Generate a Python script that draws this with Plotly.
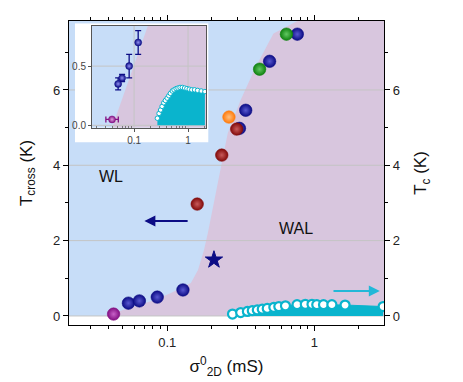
import numpy as np
import plotly.graph_objects as go

# ---------------- data ----------------
# main panel: T_cross vs sigma_2D^0
navy_sigma = [0.0545, 0.0647, 0.0856, 0.128, 0.31, 0.342, 0.497, 0.767]
navy_T = [0.34, 0.40, 0.50, 0.69, 4.98, 5.46, 6.76, 7.48]
red_sigma = [0.16, 0.235, 0.297]
red_T = [2.97, 4.27, 4.96]
green_sigma = [0.425, 0.647]
green_T = [6.55, 7.48]
orange_sigma = [0.263]
orange_T = [5.28]
purple_sigma = [0.0432]
purple_T = [0.05]
star_sigma = [0.208]
star_T = [1.49]

# Tc (right axis)
tc_sigma = [0.278, 0.316, 0.351, 0.379, 0.41, 0.443, 0.479, 0.531, 0.574, 0.637,
            0.764, 0.869, 0.965, 1.04, 1.156, 1.318, 1.62, 2.94]
tc_T = [0.05, 0.09, 0.12, 0.14, 0.16, 0.18, 0.20, 0.23, 0.25, 0.27,
        0.30, 0.31, 0.31, 0.30, 0.30, 0.30, 0.29, 0.25]

# WL / WAL crossover boundary
bnd_sigma = [0.0375, 0.0637, 0.0817, 0.106, 0.145, 0.162, 0.178, 0.189, 0.232,
             0.258, 0.316, 0.399, 0.528, 0.767]
bnd_T = [0.0, 0.29, 0.42, 0.61, 0.875, 1.22, 1.75, 2.2, 3.95, 4.85, 5.73, 6.6, 7.5, 7.83]

# inset data
in_sigma = [0.0506, 0.060, 0.081, 0.119]
in_T = [0.35, 0.40, 0.50, 0.70]
in_err = [0.05, 0.03, 0.10, 0.10]
in_p_sigma = [0.039]
in_p_T = [0.05]
in_p_errminus = [0.009]
in_p_errplus = [0.012]
in_tc_sigma = [0.27, 0.29, 0.31, 0.33, 0.355, 0.38, 0.41, 0.44, 0.47, 0.51, 0.55, 0.60,
               0.65, 0.71, 0.78, 0.86, 0.95, 1.05, 1.17, 1.32, 1.5, 1.75, 2.05]
in_tc_T = [0.06, 0.10, 0.13, 0.16, 0.19, 0.21, 0.23, 0.25, 0.27, 0.29, 0.30, 0.31,
           0.315, 0.32, 0.32, 0.315, 0.31, 0.305, 0.30, 0.30, 0.295, 0.29, 0.285]
in_bnd_sigma = [0.039, 0.18]
in_bnd_T = [-0.02, 0.84]

y_ticks = [0, 2, 4, 6]
in_y_ticks = [0.0, 0.5]
in_x_ticks = [0.1, 1]

# ---------------- styling ----------------
XR = [0.0215, 2.98]
YR = [-0.24, 7.83]
IXR = [0.0166, 2.15]
IYR = [-0.02, 0.84]
BLUE = "#c7ddf8"
PINK = "#d8c6de"
CYAN = "#0ab4cd"
NAVY = "#0c0c85"
FONT = "Arial, Liberation Sans, sans-serif"

fig = go.Figure()


def ball(xs, ys, color, center, size=12.5, xa="x", ya="y"):
    return go.Scatter(x=xs, y=ys, mode="markers", xaxis=xa, yaxis=ya, showlegend=False,
                      marker=dict(size=size, color=color,
                                  gradient=dict(type="radial", color=center),
                                  line=dict(width=0.6, color=color)))


# main backgrounds
fig.add_trace(go.Scatter(x=[XR[0], XR[1], XR[1], XR[0]], y=[0, 0, YR[1], YR[1]],
                         fill="toself", fillcolor=BLUE, mode="none", showlegend=False))
fig.add_trace(go.Scatter(x=bnd_sigma + [XR[1], XR[1]], y=bnd_T + [YR[1], 0],
                         fill="toself", fillcolor=PINK, mode="none", showlegend=False))
for t in y_ticks:
    fig.add_trace(go.Scatter(x=XR, y=[t, t], mode="lines", showlegend=False,
                             line=dict(color="#c4c4c4", width=1)))

# Tc curve (right axis)
fig.add_trace(go.Scatter(x=tc_sigma, y=tc_T, yaxis="y2", mode="lines+markers", fill="tozeroy",
                         fillcolor=CYAN, line=dict(color=CYAN, width=1), showlegend=False,
                         marker=dict(size=9, color="white", line=dict(color=CYAN, width=2.2))))

# T_cross balls
fig.add_trace(ball(navy_sigma, navy_T, NAVY, "#5858d0"))
fig.add_trace(ball(red_sigma, red_T, "#820a0a", "#c85a5a"))
fig.add_trace(ball(green_sigma, green_T, "#0f820f", "#62c862"))
fig.add_trace(ball(orange_sigma, orange_T, "#ff7a0a", "#ffc080"))
fig.add_trace(ball(purple_sigma, purple_T, "#820f82", "#c862c8"))
fig.add_trace(go.Scatter(x=star_sigma, y=star_T, mode="markers", showlegend=False,
                         marker=dict(symbol="star", size=13, color=NAVY,
                                     line=dict(width=1, color=NAVY))))

# white box behind inset
fig.add_trace(go.Scatter(x=[0, 1, 1, 0], y=[0, 0, 1, 1], xaxis="x3", yaxis="y3", fill="toself",
                         fillcolor="white", mode="none", showlegend=False))

# inset
fig.add_trace(go.Scatter(x=[IXR[0], IXR[1], IXR[1], IXR[0]], y=[IYR[0], IYR[0], IYR[1], IYR[1]],
                         xaxis="x4", yaxis="y4", fill="toself", fillcolor=BLUE, mode="none",
                         showlegend=False))
fig.add_trace(go.Scatter(x=in_bnd_sigma + [IXR[1], IXR[1]], y=in_bnd_T + [IYR[1], IYR[0]],
                         xaxis="x4", yaxis="y4", fill="toself", fillcolor=PINK, mode="none",
                         showlegend=False))
for t in in_y_ticks:
    fig.add_trace(go.Scatter(x=IXR, y=[t, t], xaxis="x4", yaxis="y4", mode="lines",
                             showlegend=False, line=dict(color="#c4c4c4", width=1)))
for v in in_x_ticks:
    fig.add_trace(go.Scatter(x=[v, v], y=IYR, xaxis="x4", yaxis="y4", mode="lines",
                             showlegend=False, line=dict(color="#c4c4c4", width=1)))
fig.add_trace(go.Scatter(x=in_tc_sigma, y=in_tc_T, xaxis="x4", yaxis="y4", mode="lines+markers",
                         fill="tozeroy", fillcolor=CYAN, line=dict(color=CYAN, width=1),
                         showlegend=False,
                         marker=dict(size=4.5, color="white", line=dict(color=CYAN, width=1))))
fig.add_trace(go.Scatter(x=in_sigma, y=in_T, xaxis="x4", yaxis="y4", mode="markers",
                         showlegend=False,
                         error_y=dict(type="data", array=in_err, color=NAVY, thickness=1.3, width=3),
                         marker=dict(size=7, color=NAVY, gradient=dict(type="radial", color="#9090f0"),
                                     line=dict(width=0.5, color=NAVY))))
fig.add_trace(go.Scatter(x=in_p_sigma, y=in_p_T, xaxis="x4", yaxis="y4", mode="markers",
                         showlegend=False,
                         error_x=dict(type="data", symmetric=False, array=in_p_errplus,
                                      arrayminus=in_p_errminus, color="#820f82", thickness=1.3, width=3),
                         marker=dict(size=7, color="#820f82", gradient=dict(type="radial", color="#e0a0e0"),
                                     line=dict(width=0.5, color="#820f82"))))

axis_common = dict(showgrid=False, zeroline=False, showline=True, linecolor="black", linewidth=1.3,
                   ticks="outside", ticklen=5, tickwidth=1.2, tickcolor="black", automargin=False,
                   tickfont=dict(size=13, color="#222", family=FONT))

# page body has an 8px default margin: size the figure so the plot area lands where the reference has it
fig.update_layout(
    width=455, height=374,
    margin=dict(l=61, r=79, t=13, b=57, autoexpand=False),
    paper_bgcolor="white", plot_bgcolor="rgba(0,0,0,0)",
    font=dict(family=FONT, color="#111"),
    xaxis=dict(type="log", range=[np.log10(XR[0]), np.log10(XR[1])], dtick=1, mirror="ticks",
               minor=dict(ticks="outside", ticklen=3, tickcolor="black"),
               title=dict(text="σ<sup>0</sup><sub>2D</sub> (mS)", font=dict(size=17, family=FONT),
                          standoff=11),
               **axis_common),
    yaxis=dict(range=YR, tickvals=y_ticks, mirror=True,
               minor=dict(dtick=1, ticks="outside", ticklen=3, tickcolor="black"),
               title=dict(text="T<sub>cross</sub> (K)", font=dict(size=17, family=FONT), standoff=16),
               **axis_common),
    yaxis2=dict(range=YR, tickvals=y_ticks, overlaying="y", side="right",
                minor=dict(dtick=1, ticks="outside", ticklen=3, tickcolor="black"),
                title=dict(text="T<sub>c</sub> (K)", font=dict(size=17, family=FONT), standoff=15),
                **axis_common),
    xaxis3=dict(domain=[0.019, 0.443], range=[0, 1], visible=False, anchor="y3"),
    yaxis3=dict(domain=[0.6, 0.993], range=[0, 1], visible=False, anchor="x3"),
    xaxis4=dict(domain=[0.073, 0.435], type="log", range=[np.log10(IXR[0]), np.log10(IXR[1])],
                tickvals=in_x_ticks, ticktext=["0.1", "1"], anchor="y4", showgrid=False, zeroline=False,
                showline=True, linecolor="#555", linewidth=1, mirror=True, ticks="outside", ticklen=3,
                tickcolor="#555", automargin=False,
                minor=dict(ticks="inside", ticklen=2, tickcolor="#777",
                           tickvals=[0.02, 0.03, 0.04, 0.05, 0.06, 0.07, 0.08, 0.09,
                                     0.2, 0.3, 0.4, 0.5, 0.6, 0.7, 0.8, 0.9, 2]),
                tickfont=dict(size=10, color="#444", family=FONT)),
    yaxis4=dict(domain=[0.649, 0.984], range=IYR, tickvals=in_y_ticks, ticktext=["0.0", "0.5"],
                anchor="x4", showgrid=False, zeroline=False, showline=True, linecolor="#555",
                linewidth=1, mirror=True, ticks="outside", ticklen=3, tickcolor="#555",
                automargin=False, tickfont=dict(size=10, color="#444", family=FONT)),
)

# text and arrows
fig.add_annotation(x=np.log10(0.0418), y=3.69, text="WL", showarrow=False,
                   font=dict(size=16, family=FONT, color="#111"))
fig.add_annotation(x=np.log10(0.755), y=2.31, text="WAL", showarrow=False,
                   font=dict(size=16, family=FONT, color="#111"))
fig.add_annotation(x=np.log10(0.07), y=2.52, ax=np.log10(0.141), ay=2.52, axref="x", ayref="y",
                   text="", showarrow=True, arrowhead=2, arrowsize=1.1, arrowwidth=2, arrowcolor=NAVY)
fig.add_annotation(x=np.log10(2.79), y=0.66, ax=np.log10(1.32), ay=0.66, xref="x", yref="y2",
                   axref="x", ayref="y2", text="", showarrow=True, arrowhead=2, arrowsize=1.1,
                   arrowwidth=2, arrowcolor="#22b8d8")

fig.write_html("out.html")
